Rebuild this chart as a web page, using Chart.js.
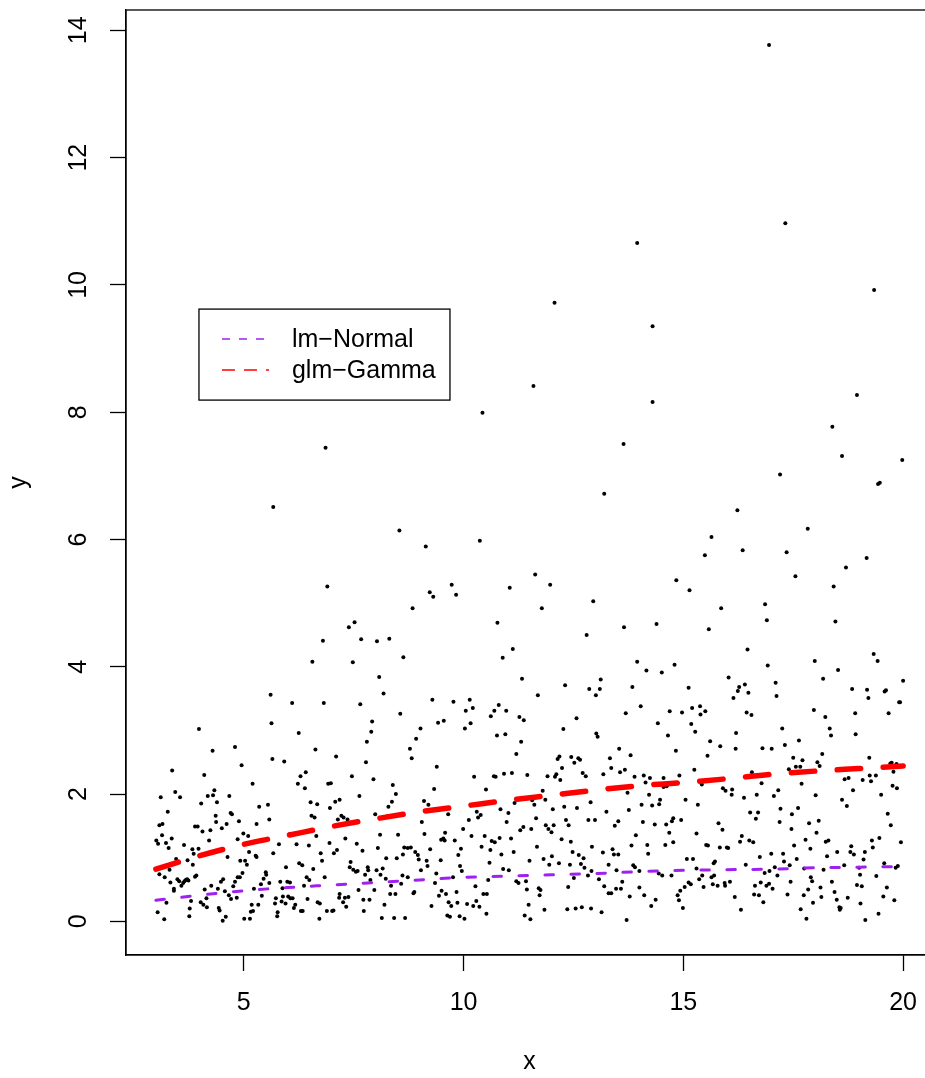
<!DOCTYPE html>
<html>
<head>
<meta charset="utf-8">
<script src="https://cdn.jsdelivr.net/npm/chart.js@4.4.1/dist/chart.umd.min.js"></script>
<style>
  html, body { margin: 0; padding: 0; overflow: hidden; background: #fff; }
  #wrap { width: 940px; height: 1078px; }
</style>
</head>
<body>
<div id="wrap"><canvas id="plot" width="940" height="1078"></canvas></div>
<script>
// tick labels
const xTicks = [5, 10, 15, 20];
const yTicks = [0, 2, 4, 6, 8, 10, 12, 14];

// fitted curves, read at whole x values
const fitX = [3, 4, 5, 6, 7, 8, 9, 10, 11, 12, 13, 14, 15, 16, 17, 18, 19, 20];
const lmNormal = [0.33, 0.41, 0.48, 0.53, 0.57, 0.61, 0.65, 0.69, 0.71, 0.73, 0.75, 0.78, 0.80, 0.81, 0.82, 0.84, 0.85, 0.86];
const glmGamma = [0.82, 1.03, 1.21, 1.35, 1.49, 1.61, 1.72, 1.81, 1.90, 1.98, 2.06, 2.13, 2.18, 2.24, 2.31, 2.36, 2.40, 2.44];

// observed points [x, y]
const dots = [
  // high values
  [16.95,13.77],[17.32,10.97],[13.95,10.66],[19.34,9.92],[12.07,9.72],[14.30,9.35],[18.95,8.27],[11.59,8.41],
  [14.30,8.16],[10.43,7.99],[6.86,7.44],[18.39,7.77],[13.64,7.50],[18.61,7.31],[17.20,7.02],[19.98,7.25],
  [19.43,6.87],[19.47,6.89],[13.20,6.72],
  // x 3 - 5.7
  [5.67,6.51],[5.61,3.56],[5.63,3.11],[5.65,2.55],[3.98,3.02],[4.29,2.68],[4.80,2.74],[3.37,2.37],[4.10,2.30],
  [4.95,2.45],[5.20,2.16],[3.11,1.95],[3.44,2.03],[3.55,1.95],[4.33,2.06],[4.18,1.97],[4.30,1.98],[4.67,1.97],
  [4.03,1.85],[4.39,1.87],[3.27,1.72],[5.35,1.80],[5.55,1.83],[5.58,1.60],[3.08,1.51],[3.15,1.53],[4.70,1.70],
  [4.73,1.68],[4.36,1.66],[4.37,1.56],[4.61,1.53],[4.89,1.57],[5.29,1.53],[3.89,1.49],[3.95,1.49],[4.06,1.41],
  [4.24,1.43],[4.50,1.46],[3.14,1.35],[3.01,1.27],[3.05,1.22],[3.23,1.23],[3.36,1.30],[3.29,1.15],[3.64,1.20],
  [4.21,1.27],[4.86,1.29],[4.99,1.38],[5.10,1.34],[3.83,1.13],[3.86,1.06],[3.97,1.14],[5.12,1.09],[5.27,1.03],
  [5.29,1.01],[5.67,1.07],[4.63,1.01],[3.46,0.98],[3.72,0.96],[3.84,0.89],[4.92,0.95],[5.03,0.95],[5.07,0.89],
  [3.31,0.81],[3.08,0.74],[3.20,0.69],[3.33,0.61],[3.41,0.51],[3.41,0.48],[3.49,0.66],[3.53,0.63],[3.62,0.60],
  [3.65,0.63],[3.68,0.65],[3.71,0.66],[3.74,0.64],[3.58,0.56],[3.92,0.72],[3.89,0.70],[4.48,0.62],[4.53,0.66],
  [4.80,0.62],[4.86,0.69],[4.91,0.69],[4.97,0.76],[5.50,0.77],[5.51,0.73],[5.45,0.67],[5.58,0.60],[5.23,0.51],
  [5.39,0.58],[4.26,0.56],[4.41,0.51],[4.57,0.47],[4.76,0.55],[4.11,0.50],[4.66,0.41],[4.71,0.35],[4.84,0.37],
  [5.41,0.40],[4.15,0.36],[3.24,0.29],[3.80,0.32],[4.02,0.30],[4.08,0.26],[4.16,0.22],[3.77,0.20],[4.43,0.21],
  [4.45,0.17],[5.18,0.26],[5.33,0.26],[5.16,0.15],[5.21,0.16],[3.04,0.14],[3.76,0.08],[4.59,0.07],[4.52,0.01],
  [3.19,0.03],[5.01,0.04],[5.14,0.04],
  // x 5.7 - 8.7
  [8.54,6.14],[6.90,5.26],[7.39,4.62],[7.52,4.70],[6.80,4.41],[7.67,4.43],[8.03,4.40],[8.31,4.44],[8.63,4.15],
  [6.56,4.08],[7.48,4.07],[8.08,3.84],[8.18,3.58],[6.10,3.43],[6.82,3.43],[7.65,3.41],[8.56,3.26],[7.92,3.14],
  [7.90,2.98],[6.25,2.96],[7.80,2.82],[6.63,2.70],[7.10,2.59],[5.92,2.51],[7.78,2.50],[7.46,2.28],[7.95,2.23],
  [6.29,2.28],[6.41,2.34],[6.23,2.16],[6.39,2.09],[6.92,2.16],[6.98,2.17],[8.39,2.14],[8.46,2.00],[7.63,1.97],
  [6.52,1.87],[6.67,1.84],[7.08,1.88],[7.18,1.91],[6.96,1.78],[8.37,1.88],[8.29,1.80],[6.54,1.66],[6.61,1.63],
  [7.22,1.66],[7.27,1.63],[7.36,1.60],[7.14,1.60],[7.99,1.68],[8.27,1.65],[6.05,1.37],[6.65,1.34],[5.80,1.21],
  [6.20,1.21],[6.48,1.19],[6.95,1.23],[7.31,1.30],[7.57,1.22],[8.10,1.36],[8.51,1.36],[6.75,1.07],[7.05,1.07],
  [7.12,1.12],[7.70,1.11],[8.05,1.15],[8.62,1.05],[8.65,1.16],[6.78,0.95],[8.24,0.99],[8.48,0.99],[6.26,0.91],
  [6.33,0.88],[5.96,0.85],[6.58,0.82],[7.43,0.93],[7.41,0.85],[7.49,0.81],[7.55,0.78],[7.59,0.79],[7.82,0.85],
  [7.83,0.80],[7.76,0.73],[8.02,0.80],[8.16,0.83],[8.11,0.73],[8.23,0.67],[8.61,0.72],[6.43,0.69],[6.49,0.65],
  [6.84,0.69],[5.83,0.62],[5.99,0.62],[6.05,0.61],[6.37,0.56],[7.88,0.65],[8.58,0.59],[8.35,0.56],[5.88,0.52],
  [7.61,0.49],[7.97,0.49],[8.33,0.43],[8.45,0.43],[5.89,0.39],[6.01,0.39],[6.06,0.36],[6.11,0.36],[5.73,0.36],
  [5.86,0.31],[5.95,0.28],[5.71,0.28],[6.17,0.26],[6.14,0.21],[6.45,0.35],[6.68,0.30],[6.73,0.28],[7.18,0.43],
  [7.17,0.37],[7.26,0.30],[7.33,0.23],[7.38,0.38],[7.30,0.37],[7.72,0.34],[7.86,0.34],[8.20,0.26],[6.30,0.16],
  [6.34,0.16],[6.89,0.16],[7.01,0.16],[7.04,0.17],[7.73,0.16],[5.77,0.14],[5.76,0.08],[6.72,0.04],[8.14,0.05],
  [8.42,0.05],
  // x 8.7 - 11.6
  [9.14,5.89],[10.37,5.98],[9.73,5.29],[9.23,5.17],[9.31,5.10],[9.83,5.13],[11.05,5.24],[8.84,4.92],[10.77,4.69],
  [11.12,4.28],[10.89,4.14],[11.33,3.81],[9.29,3.48],[9.77,3.45],[10.14,3.48],[10.05,3.31],[10.21,3.35],[10.80,3.40],
  [10.70,3.31],[10.62,3.22],[10.97,3.31],[9.42,3.12],[9.55,3.15],[10.16,3.11],[10.03,3.03],[11.27,3.21],[11.37,3.16],
  [9.02,3.03],[10.76,2.92],[10.95,2.94],[8.92,2.87],[11.31,2.82],[8.78,2.71],[8.82,2.56],[11.20,2.63],[9.39,2.43],
  [10.24,2.27],[10.69,2.28],[10.73,2.27],[10.92,2.32],[11.10,2.33],[11.45,2.30],[9.33,2.08],[10.51,2.07],[9.10,1.89],
  [9.20,1.83],[11.16,1.86],[9.65,1.68],[10.84,1.76],[11.02,1.70],[10.30,1.72],[10.39,1.67],[10.33,1.63],[9.05,1.56],
  [10.12,1.59],[10.98,1.56],[9.99,1.45],[11.29,1.43],[11.36,1.48],[11.54,1.45],[9.11,1.37],[9.58,1.39],[9.49,1.28],
  [9.54,1.30],[9.57,1.27],[9.80,1.27],[10.18,1.34],[10.48,1.34],[10.82,1.31],[11.08,1.30],[10.64,1.26],[10.71,1.24],
  [8.80,1.16],[8.73,1.15],[8.90,1.09],[8.96,1.04],[8.98,0.97],[9.24,1.13],[9.94,1.14],[9.88,1.04],[10.41,1.17],
  [10.61,1.12],[10.86,1.05],[11.14,1.09],[9.16,0.95],[9.18,0.87],[9.48,0.96],[9.03,0.80],[9.92,0.87],[9.96,0.79],
  [10.59,0.92],[10.90,0.82],[11.03,0.80],[11.50,0.95],[8.73,0.69],[9.38,0.75],[9.35,0.60],[8.88,0.46],[8.86,0.44],
  [9.50,0.48],[9.44,0.40],[9.60,0.43],[9.84,0.46],[9.76,0.69],[10.27,0.55],[10.56,0.65],[11.20,0.63],[11.25,0.60],
  [11.42,0.63],[11.44,0.50],[10.45,0.43],[10.53,0.43],[9.66,0.30],[9.72,0.24],[9.86,0.29],[10.08,0.27],[10.22,0.24],
  [10.29,0.32],[10.36,0.23],[9.27,0.24],[11.48,0.26],[10.52,0.12],[9.63,0.09],[9.69,0.07],[9.91,0.08],[10.02,0.04],
  [8.67,0.05],[11.39,0.09],[11.52,0.03],
  // x 11.6 - 14.5
  [11.63,5.45],[11.97,5.29],[11.78,4.92],[12.95,5.03],[12.80,4.50],[13.65,4.62],[14.39,4.67],[13.95,4.08],[14.16,3.94],
  [14.51,3.91],[12.31,3.71],[11.69,3.55],[12.86,3.65],[13.01,3.55],[13.10,3.65],[13.12,3.80],[13.84,3.68],[14.03,3.38],
  [13.69,3.27],[14.42,3.11],[12.57,3.19],[12.27,3.02],[13.02,2.95],[13.05,2.90],[13.54,2.71],[13.80,2.61],[12.14,2.55],
  [12.18,2.59],[12.45,2.58],[12.61,2.56],[12.65,2.54],[12.52,2.49],[13.33,2.56],[12.24,2.41],[13.36,2.41],[13.56,2.34],
  [13.67,2.38],[11.91,2.28],[12.08,2.27],[12.11,2.31],[12.20,2.22],[12.71,2.33],[12.78,2.28],[13.18,2.31],[13.89,2.27],
  [14.10,2.29],[14.24,2.25],[14.14,2.18],[11.80,2.05],[13.73,2.02],[14.22,1.99],[11.56,1.90],[11.61,1.83],[11.86,1.91],
  [12.89,1.87],[12.29,1.80],[12.58,1.78],[13.25,1.72],[13.76,1.75],[14.05,1.83],[14.29,1.82],[14.47,1.91],[14.45,1.84],
  [12.03,1.76],[11.65,1.62],[12.84,1.59],[12.99,1.59],[12.33,1.59],[12.39,1.51],[11.87,1.51],[11.93,1.45],[12.00,1.40],
  [12.05,1.51],[13.52,1.57],[13.44,1.50],[14.08,1.56],[14.35,1.52],[13.92,1.35],[12.23,1.29],[12.44,1.25],[13.82,1.19],
  [14.18,1.20],[11.67,1.17],[12.92,1.17],[12.48,1.09],[12.62,1.04],[12.73,0.99],[13.17,1.08],[13.39,1.13],[13.42,1.05],
  [13.52,1.05],[14.20,1.06],[12.01,1.02],[11.82,0.98],[12.17,0.91],[12.42,0.89],[11.95,0.89],[12.67,0.90],[12.75,0.84],
  [13.30,0.89],[13.86,0.88],[13.90,0.85],[13.48,0.80],[14.00,0.79],[14.44,0.75],[14.52,0.72],[12.91,0.79],[12.83,0.72],
  [13.08,0.66],[12.51,0.68],[13.20,0.55],[13.30,0.44],[13.36,0.44],[13.61,0.62],[13.58,0.51],[13.47,0.51],[14.00,0.53],
  [14.11,0.41],[13.78,0.39],[11.71,0.52],[11.75,0.49],[11.73,0.41],[12.38,0.54],[14.37,0.34],[14.27,0.24],[11.84,0.18],
  [12.36,0.19],[12.55,0.20],[12.69,0.22],[12.90,0.20],[13.14,0.14],[13.71,0.02],
  // x 14.5 - 17.5
  [16.23,6.46],[15.64,6.04],[15.49,5.75],[16.35,5.83],[17.35,5.80],[14.84,5.36],[15.14,5.20],[15.86,4.92],[16.86,4.98],
  [16.90,4.73],[15.58,4.59],[16.46,4.27],[14.80,4.03],[16.92,4.02],[16.03,3.83],[15.12,3.67],[16.40,3.72],[16.27,3.68],
  [16.24,3.62],[16.48,3.59],[16.14,3.51],[17.10,3.75],[17.12,3.54],[14.69,3.30],[14.97,3.28],[15.20,3.35],[15.38,3.38],
  [15.50,3.30],[15.39,3.25],[16.44,3.28],[16.55,3.24],[15.18,3.10],[15.27,2.98],[14.65,2.92],[16.20,2.96],[17.25,3.03],
  [15.61,2.83],[15.84,2.75],[16.19,2.71],[16.80,2.72],[17.01,2.71],[17.31,2.77],[14.83,2.68],[15.55,2.60],[15.25,2.38],
  [16.56,2.34],[17.40,2.39],[14.55,2.25],[14.91,2.29],[15.42,2.15],[16.78,2.17],[14.55,2.11],[14.62,2.12],[15.90,2.09],
  [15.96,2.05],[16.11,2.07],[16.10,1.99],[16.67,1.99],[17.06,1.97],[17.16,2.06],[15.05,1.91],[15.33,1.83],[16.38,1.94],
  [17.21,1.77],[16.52,1.71],[16.70,1.71],[16.65,1.61],[17.47,1.68],[14.77,1.62],[14.74,1.57],[14.95,1.59],[14.61,1.52],
  [15.80,1.54],[15.89,1.44],[17.19,1.56],[14.68,1.39],[15.30,1.38],[17.46,1.45],[16.33,1.34],[16.29,1.25],[16.50,1.27],
  [16.59,1.24],[14.59,1.20],[14.77,1.24],[15.52,1.20],[15.56,1.19],[15.83,1.16],[15.99,1.16],[16.02,1.15],[16.74,1.01],
  [17.00,1.06],[17.27,1.06],[15.08,0.98],[15.22,0.98],[15.69,0.91],[15.72,0.94],[16.42,0.89],[17.29,0.94],[17.42,0.88],
  [15.30,0.83],[14.73,0.72],[15.43,0.72],[15.36,0.66],[15.70,0.72],[15.64,0.69],[17.08,0.85],[16.96,0.79],[16.85,0.76],
  [16.06,0.62],[15.94,0.60],[16.76,0.61],[17.14,0.72],[17.44,0.62],[15.03,0.54],[15.12,0.61],[15.17,0.58],[15.46,0.54],
  [15.67,0.58],[15.78,0.56],[15.95,0.56],[16.63,0.56],[16.89,0.56],[16.95,0.59],[17.03,0.51],[14.93,0.48],[14.87,0.41],
  [14.90,0.33],[16.61,0.42],[16.72,0.41],[17.37,0.42],[16.17,0.38],[16.82,0.30],[14.99,0.21],[16.31,0.18],
  // x 17.5 - 20
  [17.83,6.17],[17.55,5.42],[18.70,5.56],[19.17,5.71],[18.42,5.26],[18.46,4.71],[17.99,4.09],[18.52,3.95],[19.33,4.20],
  [19.42,4.09],[18.18,3.81],[20.00,3.78],[18.84,3.65],[19.18,3.64],[19.21,3.51],[19.58,3.61],[19.61,3.63],[19.91,3.44],
  [19.93,3.44],[17.97,3.32],[18.91,3.27],[19.67,3.27],[18.23,3.21],[18.33,3.03],[18.36,2.92],[18.92,2.94],[17.63,2.84],
  [17.50,2.57],[17.71,2.53],[18.16,2.63],[18.05,2.50],[18.10,2.44],[19.23,2.57],[17.56,2.43],[17.66,2.43],[19.71,2.48],
  [19.74,2.49],[19.85,2.47],[19.78,2.35],[18.67,2.23],[18.76,2.25],[19.08,2.22],[19.24,2.29],[19.38,2.29],[19.27,2.20],
  [17.69,2.16],[19.76,2.13],[19.86,2.09],[18.86,2.06],[18.01,1.98],[19.50,1.99],[18.61,1.91],[18.72,1.81],[17.61,1.78],
  [19.65,1.69],[17.86,1.54],[18.08,1.58],[19.72,1.51],[18.03,1.39],[17.78,1.28],[18.24,1.25],[18.30,1.27],[19.29,1.27],
  [19.46,1.31],[19.95,1.24],[17.52,1.19],[17.89,1.14],[18.82,1.18],[19.31,1.16],[18.50,1.09],[18.80,1.09],[18.88,1.05],
  [19.13,1.09],[18.27,1.02],[17.58,0.98],[19.10,0.97],[17.75,0.83],[18.19,0.81],[18.66,0.88],[19.00,0.84],[19.57,0.91],
  [19.83,0.84],[19.88,0.87],[19.02,0.73],[17.90,0.69],[17.93,0.63],[18.38,0.62],[19.39,0.71],[18.95,0.57],[19.06,0.55],
  [17.84,0.50],[18.12,0.53],[18.44,0.46],[19.63,0.53],[17.74,0.41],[18.14,0.38],[18.49,0.34],[18.74,0.37],[19.55,0.39],
  [17.95,0.29],[19.03,0.28],[19.80,0.33],[17.67,0.19],[18.55,0.22],[18.56,0.18],[18.58,0.21],[19.44,0.12],[17.80,0.04],
  [19.14,0.02]
];

const FONT = { family: '"Liberation Sans", Arial, Helvetica, sans-serif', size: 25 };
const PURPLE = '#A020F0';
const RED = '#FF0000';

// box round the plot region (R bty="o")
const boxPlugin = {
  id: 'box',
  afterDraw(chart) {
    const { ctx, chartArea: a } = chart;
    ctx.save();
    ctx.strokeStyle = '#000';
    ctx.lineWidth = 1.3;
    ctx.strokeRect(a.left, a.top, a.right - a.left, a.bottom - a.top);
    ctx.restore();
  }
};

// legend placed inside the plot at (x=3.98, y=9.62), like R's legend()
const legendPlugin = {
  id: 'rlegend',
  afterDraw(chart) {
    const { ctx, scales } = chart;
    const left = scales.x.getPixelForValue(3.98);
    const top = scales.y.getPixelForValue(9.62);
    ctx.save();
    ctx.fillStyle = '#fff';
    ctx.fillRect(left, top, 251, 91);
    ctx.strokeStyle = '#000';
    ctx.lineWidth = 1.3;
    ctx.strokeRect(left, top, 251, 91);
    const rows = [
      { ds: chart.data.datasets[1], y: top + 30, dash: [8, 9] },
      { ds: chart.data.datasets[2], y: top + 61, dash: [13, 9] }
    ];
    rows.forEach(r => {
      ctx.strokeStyle = r.ds.borderColor;
      ctx.lineWidth = 1.5;
      ctx.setLineDash(r.dash);
      ctx.beginPath();
      ctx.moveTo(left + 23, r.y);
      ctx.lineTo(left + 70, r.y);
      ctx.stroke();
      ctx.setLineDash([]);
      ctx.fillStyle = '#000';
      ctx.font = FONT.size + 'px ' + FONT.family;
      ctx.textBaseline = 'middle';
      ctx.textAlign = 'left';
      ctx.fillText(r.ds.label, left + 93, r.y + 1);
    });
    ctx.restore();
  }
};

const ctx = document.getElementById('plot').getContext('2d');
const chart = new Chart(ctx, {
  type: 'scatter',
  data: {
    datasets: [
      {
        label: 'data',
        data: dots.map(p => ({ x: p[0], y: p[1] })),
        pointRadius: 2,
        pointBackgroundColor: '#000',
        pointBorderWidth: 0,
        order: 3
      },
      {
        label: 'lm\u2212Normal',
        data: fitX.map((x, i) => ({ x: x, y: lmNormal[i] })),
        showLine: true,
        borderColor: PURPLE,
        borderWidth: 3,
        borderDash: [8.5, 17.5],
        borderCapStyle: 'round',
        pointRadius: 0,
        cubicInterpolationMode: 'monotone',
        order: 2
      },
      {
        label: 'glm\u2212Gamma',
        data: fitX.map((x, i) => ({ x: x, y: glmGamma[i] })),
        showLine: true,
        borderColor: RED,
        borderWidth: 5.5,
        borderDash: [23.5, 22.5],
        borderCapStyle: 'round',
        pointRadius: 0,
        cubicInterpolationMode: 'monotone',
        order: 1
      }
    ]
  },
  options: {
    responsive: false,
    animation: false,
    events: [],
    layout: { padding: { top: 10, right: 7, bottom: 0, left: 0 } },
    plugins: { legend: { display: false }, tooltip: { enabled: false } },
    scales: {
      x: {
        type: 'linear',
        min: 2.32,
        max: 20.68,
        afterBuildTicks: s => { s.ticks = xTicks.map(v => ({ value: v })); },
        afterFit: s => { s.height = 123; s.paddingLeft = 0; s.paddingRight = 0; },
        grid: { drawOnChartArea: false, drawTicks: true, tickLength: 16, tickWidth: 1.3, tickColor: '#000' },
        border: { display: true, color: '#000', width: 1.3 },
        ticks: { color: '#000', font: FONT, padding: 17, maxRotation: 0, autoSkip: false },
        title: { display: true, text: 'x', color: '#000', font: FONT, padding: { top: 0, bottom: 0.5 } }
      },
      y: {
        type: 'linear',
        min: -0.53,
        max: 14.32,
        afterBuildTicks: s => { s.ticks = yTicks.map(v => ({ value: v })); },
        afterFit: s => { s.width = 126; s.paddingTop = 0; s.paddingBottom = 0; },
        grid: { drawOnChartArea: false, drawTicks: true, tickLength: 16, tickWidth: 1.3, tickColor: '#000' },
        border: { display: true, color: '#000', width: 1.3 },
        ticks: { color: '#000', font: FONT, padding: 16.5, minRotation: 90, maxRotation: 90, crossAlign: 'center', autoSkip: false },
        title: { display: true, text: 'y', color: '#000', font: FONT, padding: { top: 4, bottom: 0 } }
      }
    }
  },
  plugins: [boxPlugin, legendPlugin]
});
</script>
</body>
</html>
